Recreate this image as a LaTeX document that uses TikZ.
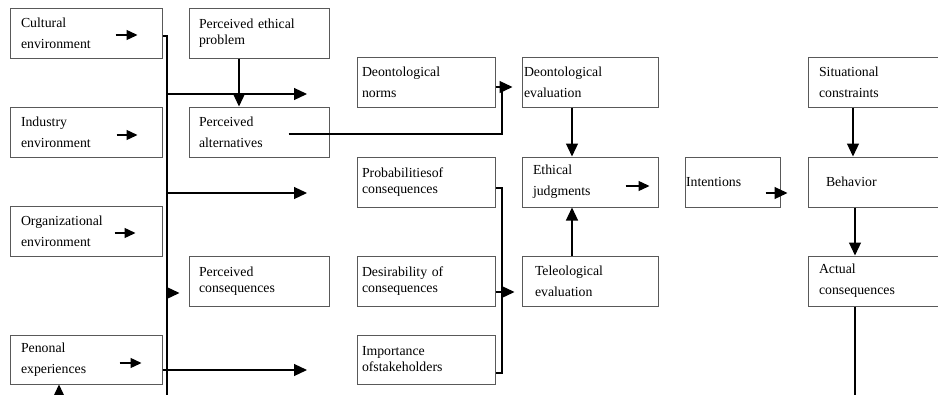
\documentclass[tikz,border=0pt]{standalone}
\usepackage{fontspec}
\setmainfont{Liberation Serif}
\usetikzlibrary{arrows.meta}

\begin{document}
\begin{tikzpicture}[
    x=1pt, y=-1pt,
    box/.style={draw=black!65, line width=1pt, minimum height=50pt,
        inner ysep=0pt, align=left, font=\fontsize{13.8pt}{21pt}\selectfont},
    tight/.style={font=\fontsize{13.8pt}{16pt}\selectfont},
    line/.style={line width=1.2pt},
    arr/.style={line width=1.2pt, -{Triangle[length=13pt,width=12pt]}},
    small/.style={line width=1.4pt, -{Triangle[length=11pt,width=10pt]}}
    ]

    \clip (0,0) rectangle (938,394);

    % left column
    \node [box, text width=130pt, inner xsep=11pt] (cult) at (86,33) {Cultural\\environment};
    \node [box, text width=130pt, inner xsep=11pt] (ind) at (86,132) {Industry\\environment};
    \node [box, text width=130pt, inner xsep=11pt] (org) at (86,231) {Organizational\\environment};
    \node [box, text width=130pt, inner xsep=11pt, minimum height=49pt] (pers) at (86,359.5) {Penonal\\experiences};

    % perceptions
    \node [box, tight, text width=120pt, inner xsep=10pt] (pep) at (259,33) {Perceived ethical\\problem};
    \node [box, text width=120pt, inner xsep=10pt] (pa) at (259,132) {Perceived\\alternatives};
    \node [box, tight, text width=120pt, inner xsep=10pt] (pc) at (259,281.5) {Perceived\\consequences};

    % norms and consequences
    \node [box, text width=128pt, inner xsep=5pt] (dn) at (426,82) {Deontological\\norms};
    \node [box, tight, text width=128pt, inner xsep=5pt] (poc) at (426,182) {Probabilitiesof\\consequences};
    \node [box, tight, text width=128pt, inner xsep=5pt] (doc) at (426,281.5) {Desirability of\\consequences};
    \node [box, tight, text width=128pt, inner xsep=5pt, minimum height=49pt] (ios) at (426,359.5) {Importance\\ofstakeholders};

    % evaluations
    \node [box, text width=132pt, inner xsep=2pt] (de) at (590,82) {Deontological\\evaluation};
    \node [box, text width=114pt, inner xsep=11pt] (ej) at (590,182) {Ethical\\judgments};
    \node [box, text width=110pt, inner xsep=13pt] (te) at (590,281.5) {Teleological\\evaluation};

    % right part
    \node [box, text width=93pt, inner xsep=1pt] (int) at (732.5,182) {Intentions};
    \node [box, text width=120pt, inner xsep=11pt] (sc) at (879,82) {Situational\\constraints};
    \node [box, text width=106pt, inner xsep=18pt] (beh) at (879,182) {Behavior};
    \node [box, text width=120pt, inner xsep=11pt] (ac) at (879,281) {Actual\\consequences};

    % trunk
    \coordinate (tbot) at (167,400);
    \coordinate (t1) at (167,94);
    \coordinate (t2) at (167,193);
    \coordinate (t3) at (167,293);
    \coordinate (e1) at (307,94);
    \coordinate (e2) at (307,193);
    \coordinate (e3) at (307,370);
    \coordinate (pbot) at (59,400);

    \draw [line]
        ([yshift=-3pt]cult.east)
        -| (tbot)
        ;
    \draw [arr] (t1) -- (e1);
    \draw [arr] (t2) -- (e2);
    \draw [arr, shorten >=9pt] (t3) -- (t3 -| pc.west);
    \draw [arr] ([yshift=-10.5pt]pers.east) -- (e3);
    \draw [arr] (pbot) -- (pbot |- pers.south);

    \draw [small] ([xshift=-47pt,yshift=-2pt]cult.east) -- ([xshift=-25pt,yshift=-2pt]cult.east);
    \draw [small] ([xshift=-46pt,yshift=-3pt]ind.east) -- ([xshift=-25pt,yshift=-3pt]ind.east);
    \draw [small] ([xshift=-48pt,yshift=-2pt]org.east) -- ([xshift=-27pt,yshift=-2pt]org.east);
    \draw [small] ([xshift=-43pt,yshift=-3.5pt]pers.east) -- ([xshift=-21pt,yshift=-3.5pt]pers.east);

    \draw [arr] ([xshift=-20pt]pep.south) -- ([xshift=-20pt]pa.north);

    % deontological branch
    \coordinate (jn) at (502,87);
    \draw [line]
        ([xshift=-41pt,yshift=-2pt]pa.east)
        -| (jn)
        ;
    \draw [line] (dn.east |- jn) -- (jn);
    \draw [arr, shorten >=9pt] (jn) -- (jn -| de.west);

    % teleological branch
    \coordinate (jt) at (502,188);
    \coordinate (jm) at (502,292);
    \coordinate (jb) at (502,373);
    \draw [line]
        (poc.east |- jt)
        -- (jt)
        -- (jb)
        -- (ios.east |- jb)
        ;
    \draw [arr, shorten >=7pt] (doc.east |- jm) -- (jm -| te.west);

    \draw [arr] ([xshift=-18pt]de.south) -- ([xshift=-18pt]ej.north);
    \draw [arr] ([xshift=-18pt]te.north) -- ([xshift=-18pt]ej.south);
    \draw [small] ([xshift=-33pt,yshift=-4pt]ej.east) -- ([xshift=-9pt,yshift=-4pt]ej.east);

    \draw [arr, shorten >=20pt] ([xshift=-15pt,yshift=-11pt]int.east) -- ([yshift=-11pt]beh.west);
    \draw [arr] ([xshift=-26pt]sc.south) -- ([xshift=-26pt]beh.north);
    \draw [arr] ([xshift=-24pt]beh.south) -- ([xshift=-24pt]ac.north);

    \coordinate (abot) at (855,400);
    \draw [line] (abot |- ac.south) -- (abot);
\end{tikzpicture}
\end{document}
